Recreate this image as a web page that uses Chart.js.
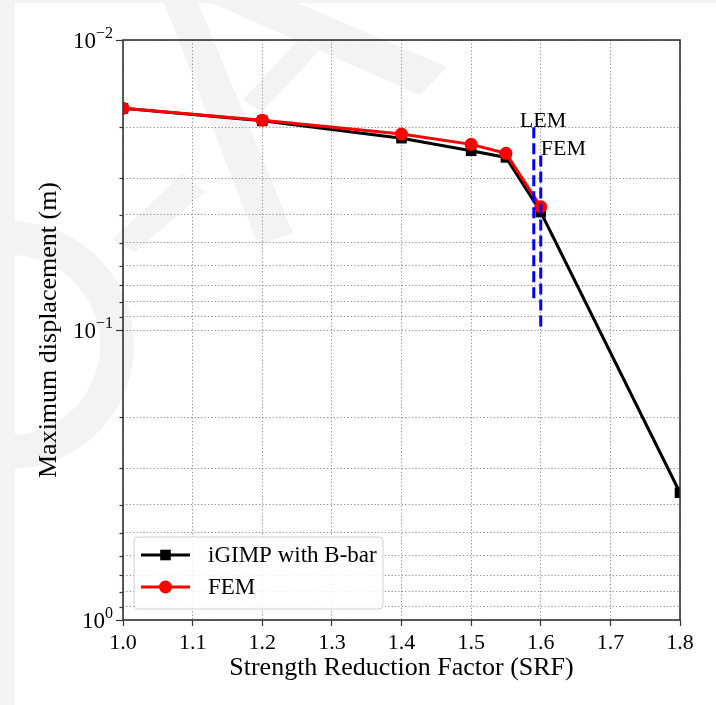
<!DOCTYPE html>
<html>
<head>
<meta charset="utf-8">
<title>SRF vs maximum displacement</title>
<script src="https://cdn.jsdelivr.net/npm/chart.js@4.4.1/dist/chart.umd.min.js"></script>
<style>
  html, body { margin: 0; padding: 0; background: #fff; }
  #wrap { position: relative; width: 716px; height: 705px; }
</style>
</head>
<body>
<div id="wrap"><canvas id="srfchart" width="716" height="705"></canvas></div>
<script>
// data
const srfIgimp  = [1.0, 1.2, 1.4, 1.5, 1.55, 1.6, 1.8];
const dispIgimp = [0.0172, 0.0190, 0.0218, 0.0241, 0.0254, 0.0392, 0.364];
const srfFem    = [1.0, 1.2, 1.4, 1.5, 1.55, 1.6];
const dispFem   = [0.0172, 0.0189, 0.0211, 0.0229, 0.0246, 0.0376];

// vertical dashed markers (LEM / FEM factor of safety)
const lemX = [1.59, 1.59];
const lemY = [0.02, 0.08];
const femX = [1.6, 1.6];
const femY = [0.025, 0.1];

// text labels next to the markers
const noteText = ['LEM', 'FEM'];
const noteX = [1.57, 1.6];
const noteY = [0.02, 0.025];

// ticks
const xTicks = [1.0, 1.1, 1.2, 1.3, 1.4, 1.5, 1.6, 1.7, 1.8];
const yTicks = [0.01, 0.02, 0.03, 0.04, 0.05, 0.06, 0.07, 0.08, 0.09,
                0.1, 0.2, 0.3, 0.4, 0.5, 0.6, 0.7, 0.8, 0.9, 1];
const yMajor = [0.01, 0.1, 1];

const serif = '"Liberation Serif", "Times New Roman", serif';

function pts(xs, ys) {
  return xs.map((x, i) => ({ x: x, y: ys[i] }));
}

// faint watermark shapes behind the figure
const marks = [
  [[163, 0], [197, 0], [293, 233], [258, 245]],
  [[205, 0], [290, 0], [447, 67], [420, 95]],
  [[298, 40], [318, 52], [262, 112], [243, 100]],
  [[183, 173], [205, 192], [135, 252], [112, 240]]
];

// start extras plugin (background, frame, y tick labels, notes, legend)
const extras = {
  id: 'extras',
  beforeDraw(chart) {
    const c = chart.ctx;
    c.save();
    c.fillStyle = '#fff';
    c.fillRect(0, 0, chart.width, chart.height);
    c.fillStyle = '#f3f3f3';
    marks.forEach(m => {
      c.beginPath();
      m.forEach((p, i) => i ? c.lineTo(p[0], p[1]) : c.moveTo(p[0], p[1]));
      c.closePath();
      c.fill();
    });
    // ring
    c.beginPath();
    c.arc(10, 345, 124, -1.9, 1.75);
    c.arc(10, 345, 90, 1.75, -1.9, true);
    c.closePath();
    c.fill();
    // strips round the scanned page
    c.fillStyle = '#f4f4f4';
    c.fillRect(0, 0, 15, chart.height);
    c.fillRect(0, 0, chart.width, 3);
    c.restore();
  },
  afterDatasetsDraw(chart) {
    const c = chart.ctx;
    const a = chart.chartArea;
    c.save();
    c.strokeStyle = '#333';
    c.lineWidth = 1.6;
    c.strokeRect(a.left, a.top, a.right - a.left, a.bottom - a.top);
    c.restore();
  },
  afterDraw(chart) {
    const c = chart.ctx;
    const a = chart.chartArea;
    const ys = chart.scales.y;
    const xs = chart.scales.x;
    c.save();

    // y tick marks
    c.strokeStyle = '#333';
    c.lineWidth = 1.2;
    yTicks.forEach(v => {
      const py = Math.round(ys.getPixelForValue(v)) + 0.5;
      const len = yMajor.includes(v) ? 7 : 3.5;
      c.beginPath();
      c.moveTo(a.left - len, py);
      c.lineTo(a.left, py);
      c.stroke();
    });

    // y tick labels 10^n
    c.fillStyle = '#000';
    c.textAlign = 'right';
    c.textBaseline = 'alphabetic';
    yMajor.forEach(v => {
      const py = ys.getPixelForValue(v);
      const e = Math.round(Math.log10(v));
      const sup = e < 0 ? '\u2212' + Math.abs(e) : String(e);
      const right = a.left - 10;
      c.font = '16px ' + serif;
      const w = c.measureText(sup).width;
      c.fillText(sup, right, py - 2);
      c.font = '23px ' + serif;
      c.fillText('10', right - w, py + 8);
    });

    // LEM / FEM notes
    c.font = '22px ' + serif;
    c.textAlign = 'left';
    c.textBaseline = 'alphabetic';
    noteText.forEach((t, i) => {
      c.fillText(t, xs.getPixelForValue(noteX[i]), ys.getPixelForValue(noteY[i]));
    });

    // legend box
    const lx = 134, ly = 537, lw = 249, lh = 72;
    c.beginPath();
    c.roundRect(lx, ly, lw, lh, 4);
    c.fillStyle = 'rgba(255,255,255,0.85)';
    c.fill();
    c.strokeStyle = '#d0d0d0';
    c.lineWidth = 1;
    c.stroke();

    const items = chart.data.datasets.filter(d => d.inLegend);
    items.sort((p, q) => p.legendRow - q.legendRow);
    items.forEach((d, i) => {
      const ry = ly + 18 + i * 32;
      c.strokeStyle = d.borderColor;
      c.lineWidth = d.borderWidth;
      c.beginPath();
      c.moveTo(lx + 7, ry);
      c.lineTo(lx + 56, ry);
      c.stroke();
      c.fillStyle = d.borderColor;
      if (d.pointStyle === 'rect') {
        const s = d.pointRadius * Math.SQRT1_2;
        c.fillRect(lx + 31.5 - s, ry - s, 2 * s, 2 * s);
      } else {
        c.beginPath();
        c.arc(lx + 31.5, ry, d.pointRadius, 0, Math.PI * 2);
        c.fill();
      }
      c.fillStyle = '#000';
      c.font = '23px ' + serif;
      c.textAlign = 'left';
      c.textBaseline = 'middle';
      c.fillText(d.label, lx + 74, ry + 1);
    });

    c.restore();
  }
};
// end extras plugin

const ctx = document.getElementById('srfchart');

let srfChart = new Chart(ctx, {
  type: 'line',
  data: {
    datasets: [
      {
        label: 'LEM line',
        data: pts(lemX, lemY),
        borderColor: '#0000ff',
        borderWidth: 3,
        borderDash: [11, 5],
        pointRadius: 0,
        clip: 0,
        order: 0
      },
      {
        label: 'FEM line',
        data: pts(femX, femY),
        borderColor: '#0000ff',
        borderWidth: 3,
        borderDash: [11, 5],
        pointRadius: 0,
        clip: 0,
        order: 0
      },
      {
        label: 'FEM',
        data: pts(srfFem, dispFem),
        borderColor: '#ff0000',
        backgroundColor: '#ff0000',
        borderWidth: 3,
        pointStyle: 'circle',
        pointRadius: 6.5,
        pointBorderWidth: 0,
        tension: 0,
        clip: 0,
        order: 1,
        inLegend: true,
        legendRow: 1
      },
      {
        label: 'iGIMP with B-bar',
        data: pts(srfIgimp, dispIgimp),
        borderColor: '#000000',
        backgroundColor: '#000000',
        borderWidth: 3,
        pointStyle: 'rect',
        pointRadius: 7.5,
        pointBorderWidth: 0,
        tension: 0,
        clip: 0,
        order: 2,
        inLegend: true,
        legendRow: 0
      }
    ]
  },
  options: {
    responsive: false,
    animation: false,
    devicePixelRatio: 1,
    layout: { padding: { left: 0, top: 40, right: 36, bottom: 0 } },
    plugins: {
      legend: { display: false },
      tooltip: { enabled: false }
    },
    scales: {
      x: {
        type: 'linear',
        min: 1.0,
        max: 1.8,
        afterBuildTicks: s => { s.ticks = xTicks.map(v => ({ value: v })); },
        afterFit: s => { s.height = 85; },
        ticks: {
          callback: v => Number(v).toFixed(1),
          font: { family: serif, size: 22 },
          color: '#000',
          padding: 4,
          maxRotation: 0,
          autoSkip: false
        },
        grid: {
          color: '#8a8a8a',
          lineWidth: 1,
          drawTicks: true,
          tickLength: 6,
          tickColor: '#333',
          tickWidth: 1.2,
          tickBorderDash: []
        },
        border: { display: false, dash: [1.2, 2.2] },
        title: {
          display: true,
          text: 'Strength Reduction Factor (SRF)',
          font: { family: serif, size: 26 },
          color: '#000',
          padding: { top: 0, bottom: 21 }
        }
      },
      y: {
        type: 'logarithmic',
        reverse: true,
        min: 0.01,
        max: 1,
        afterBuildTicks: s => {
          s.ticks = yTicks.map(v => ({ value: v, major: yMajor.includes(v) }));
        },
        afterFit: s => { s.width = 123; },
        ticks: { display: false, autoSkip: false },
        grid: {
          color: '#8a8a8a',
          lineWidth: 1,
          drawTicks: false
        },
        border: { display: false, dash: [1.2, 2.2] },
        title: {
          display: true,
          text: 'Maximum displacement (m)',
          font: { family: serif, size: 26 },
          color: '#000',
          padding: { top: 34, bottom: 0 }
        }
      }
    }
  },
  plugins: [extras]
});
</script>
</body>
</html>
